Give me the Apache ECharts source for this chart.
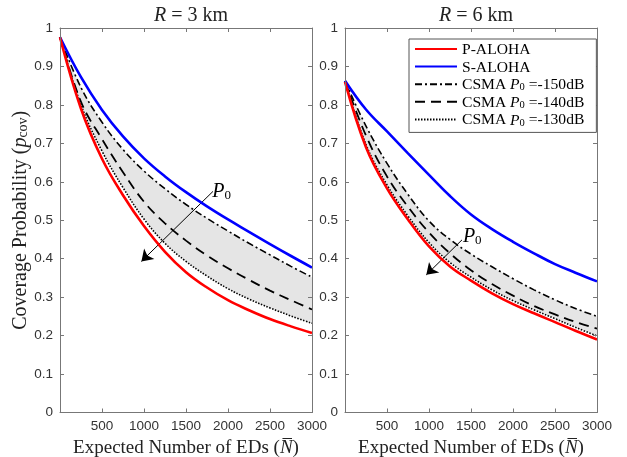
<!DOCTYPE html>
<html><head><meta charset="utf-8">
<script src="https://cdn.jsdelivr.net/npm/echarts@6/dist/echarts.min.js"></script>
<style>html,body{margin:0;padding:0;background:#fff}#c{width:627px;height:457px}</style>
</head><body><div id="c"></div>
<script>
// Expected number of EDs (x)
const N = [0,250,500,750,1000,1250,1500,1750,2000,2250,2500,2750,3000];
const xTickLabels = [500,1000,1500,2000,2500,3000];
const panelTitles = ['3 km','6 km'];

// R = 3 km
const pAloha3 = [0.976,0.790,0.660,0.565,0.485,0.418,0.365,0.325,0.292,0.266,0.243,0.224,0.207];
const sAloha3 = [0.976,0.872,0.787,0.718,0.661,0.614,0.573,0.536,0.502,0.470,0.438,0.407,0.377];
const csma150_3 = [0.976,0.845,0.755,0.684,0.628,0.582,0.541,0.505,0.472,0.440,0.410,0.380,0.352];
const csma140_3 = [0.976,0.808,0.711,0.625,0.548,0.492,0.447,0.408,0.375,0.345,0.317,0.292,0.268];
const csma130_3 = [0.976,0.800,0.680,0.585,0.503,0.440,0.393,0.355,0.322,0.295,0.272,0.251,0.232];

// R = 6 km
const pAloha6 = [0.860,0.690,0.583,0.502,0.432,0.380,0.343,0.310,0.282,0.258,0.235,0.212,0.190];
const sAloha6 = [0.863,0.788,0.731,0.674,0.618,0.563,0.515,0.477,0.444,0.414,0.386,0.363,0.341];
const csma150_6 = [0.862,0.745,0.648,0.567,0.498,0.450,0.412,0.379,0.348,0.319,0.293,0.270,0.250];
const csma140_6 = [0.862,0.720,0.614,0.535,0.468,0.414,0.370,0.334,0.304,0.277,0.255,0.235,0.218];
const csma130_6 = [0.861,0.697,0.592,0.511,0.442,0.390,0.352,0.319,0.291,0.267,0.244,0.221,0.199];

// annotation arrows (tail -> head) and P0 label anchors, in data units
const arrow3 = [[1821,0.575],[969,0.393]];
const arrow6 = [[1393,0.449],[968,0.358]];
const label3 = [1925,0.577];
const label6 = [1515,0.46];

const names = ['P-ALOHA','S-ALOHA','CSMA -150','CSMA -140','CSMA -130'];
const serif = 'Liberation Serif';
const legendRich = {
  n:{fontFamily:serif,fontSize:15.6,color:'#000',verticalAlign:'bottom',lineHeight:18},
  i:{fontFamily:serif,fontStyle:'italic',fontSize:15.6,color:'#000',verticalAlign:'bottom',lineHeight:18},
  s:{fontFamily:serif,fontSize:10.5,color:'#000',verticalAlign:'bottom',lineHeight:9}
};
function legendText(name){
  if(name.indexOf('CSMA')===0){
    const db = name.split(' ')[1];
    return '{n|CSMA }{i|P}{s|0}{n| =' + db + 'dB}';
  }
  return '{n|' + name + '}';
}

function mkRich(fs){
  return {
    n:{fontFamily:serif,fontSize:fs,color:'#222',verticalAlign:'bottom',lineHeight:fs+3},
    i:{fontFamily:serif,fontStyle:'italic',fontSize:fs,color:'#222',verticalAlign:'bottom',lineHeight:fs+3},
    s:{fontFamily:serif,fontSize:Math.round(fs*0.68),color:'#222',verticalAlign:'bottom',lineHeight:Math.round(fs*0.58)}
  };
}
const xNameRich = mkRich(19);
const yNameRich = mkRich(20);

const axisColor = '#777';
function xAx(gi, top){
  return {
    type:'value', gridIndex:gi, min:0, max:3000, interval:500, position: top?'top':'bottom', z:10,
    axisLine:{show:true,onZero:false,lineStyle:{color:axisColor,width:1}},
    axisTick:{show:true,inside:true,length:4,lineStyle:{color:axisColor}},
    splitLine:{show:false},
    axisLabel:{show:!top,margin:7,color:'#333',fontFamily:'Liberation Sans',fontSize:13.5,
      formatter:v=>xTickLabels.indexOf(v)>=0?String(v):''},
    name: top?'':'{n|Expected Number of EDs (}{i|N\u0305}{n|)}',
    nameLocation:'middle', nameGap:23, nameTextStyle:{rich:xNameRich}
  };
}
function yAx(gi, right){
  return {
    type:'value', gridIndex:gi, min:0, max:1, interval:0.1, position: right?'right':'left', z:10,
    axisLine:{show:true,onZero:false,lineStyle:{color:axisColor,width:1}},
    axisTick:{show:true,inside:true,length:4,lineStyle:{color:axisColor}},
    splitLine:{show:false},
    axisLabel:{show:!right,margin:7,color:'#333',fontFamily:'Liberation Sans',fontSize:13.5,
      formatter:v=>String(Math.round(v*10)/10)},
    name: (!right && gi===0)?'{n|Coverage Probability (}{i|p}{s|cov}{n|)}':'',
    nameLocation:'middle', nameGap:28, nameRotate:90, nameTextStyle:{rich:yNameRich}
  };
}

function pts(vals){ return N.map((n,i)=>[n, vals[i]]); }
function line(name, vals, gi, color, width, dash, z){
  return {type:'line', name, xAxisIndex:gi, yAxisIndex:gi, data:pts(vals), smooth:0.4,
    symbol:'none', showSymbol:false, z:z, silent:true,
    lineStyle:{color, width, type:dash||'solid'}, itemStyle:{color}};
}
function area(vals, gi, color, z){
  return {type:'line', xAxisIndex:gi, yAxisIndex:gi, data:pts(vals), smooth:0.4,
    symbol:'none', z:z, silent:true, lineStyle:{width:0,opacity:0},
    areaStyle:{color, opacity:1}};
}
const pRich = {
  i:{fontFamily:serif,fontStyle:'italic',fontSize:20,color:'#000',verticalAlign:'bottom',lineHeight:22},
  s:{fontFamily:serif,fontSize:13,color:'#000',verticalAlign:'bottom',lineHeight:10}
};
function arrowSeries(gi, arrow, lab){
  return {type:'line', xAxisIndex:gi, yAxisIndex:gi, data:[], silent:true, z:20,
    markLine:{silent:true, animation:false, symbol:['none','arrow'], symbolSize:11,
      lineStyle:{color:'#000',width:1,type:'solid'}, itemStyle:{color:'#000'}, label:{show:false},
      data:[[{coord:arrow[0]},{coord:arrow[1]}]]},
    markPoint:{silent:true, animation:false, symbol:'circle', symbolSize:0,
      label:{show:true,position:'inside',formatter:'{i|P}{s|0}',rich:pRich},
      data:[{coord:lab}]}
  };
}

const dashDot = [7,3,2,3];
const dashed = [10,6];
const dotted = [1.5,1.5];

const series = [];
[[pAloha3,sAloha3,csma150_3,csma140_3,csma130_3],[pAloha6,sAloha6,csma150_6,csma140_6,csma130_6]].forEach((d,gi)=>{
  series.push(area(d[2], gi, '#e5e5e5', 1));
  series.push(area(d[4], gi, '#ffffff', 2));
  series.push(line(names[2], d[2], gi, '#000', 1.6, dashDot, 5));
  series.push(line(names[3], d[3], gi, '#000', 1.8, dashed, 5));
  series.push(line(names[4], d[4], gi, '#000', 1.6, dotted, 5));
  series.push(line(names[1], d[1], gi, '#0000ff', 2.6, null, 6));
  series.push(line(names[0], d[0], gi, '#ff0000', 2.6, null, 6));
  series.push(arrowSeries(gi, gi===0?arrow3:arrow6, gi===0?label3:label6));
});

const titleRich = {
  i:{fontFamily:serif,fontStyle:'italic',fontWeight:'normal',fontSize:20,color:'#222'},
  n:{fontFamily:serif,fontWeight:'normal',fontSize:20,color:'#222'}
};

const chart = echarts.init(document.getElementById('c'), null, {renderer:'canvas'});
chart.setOption({
  animation:false,
  backgroundColor:'#fff',
  title:[
    {text:'{i|R}{n| = '+panelTitles[0]+'}', left:186, top:1, textAlign:'center', textStyle:{fontWeight:'normal',rich:titleRich}},
    {text:'{i|R}{n| = '+panelTitles[1]+'}', left:471, top:1, textAlign:'center', textStyle:{fontWeight:'normal',rich:titleRich}}
  ],
  grid:[
    {left:60, top:28, width:252, height:384.5, show:false, outerBoundsMode:'none', containLabel:false},
    {left:345, top:28, width:252, height:384.5, show:false, outerBoundsMode:'none', containLabel:false}
  ],
  xAxis:[xAx(0,false), xAx(1,false), xAx(0,true), xAx(1,true)],
  yAxis:[yAx(0,false), yAx(1,false), yAx(0,true), yAx(1,true)],
  legend:{
    data:names, orient:'vertical', left:409, top:39,
    padding:[3,12,4,5], itemWidth:42, itemHeight:12, itemGap:1.6,
    borderColor:'#555', borderWidth:1, backgroundColor:'#fff',
    selectedMode:false,
    itemStyle:{opacity:0},
    formatter:legendText,
    textStyle:{rich:legendRich, fontFamily:serif, fontSize:15.6, color:'#000'},
    z:30
  },
  series
});
</script>
</body></html>
